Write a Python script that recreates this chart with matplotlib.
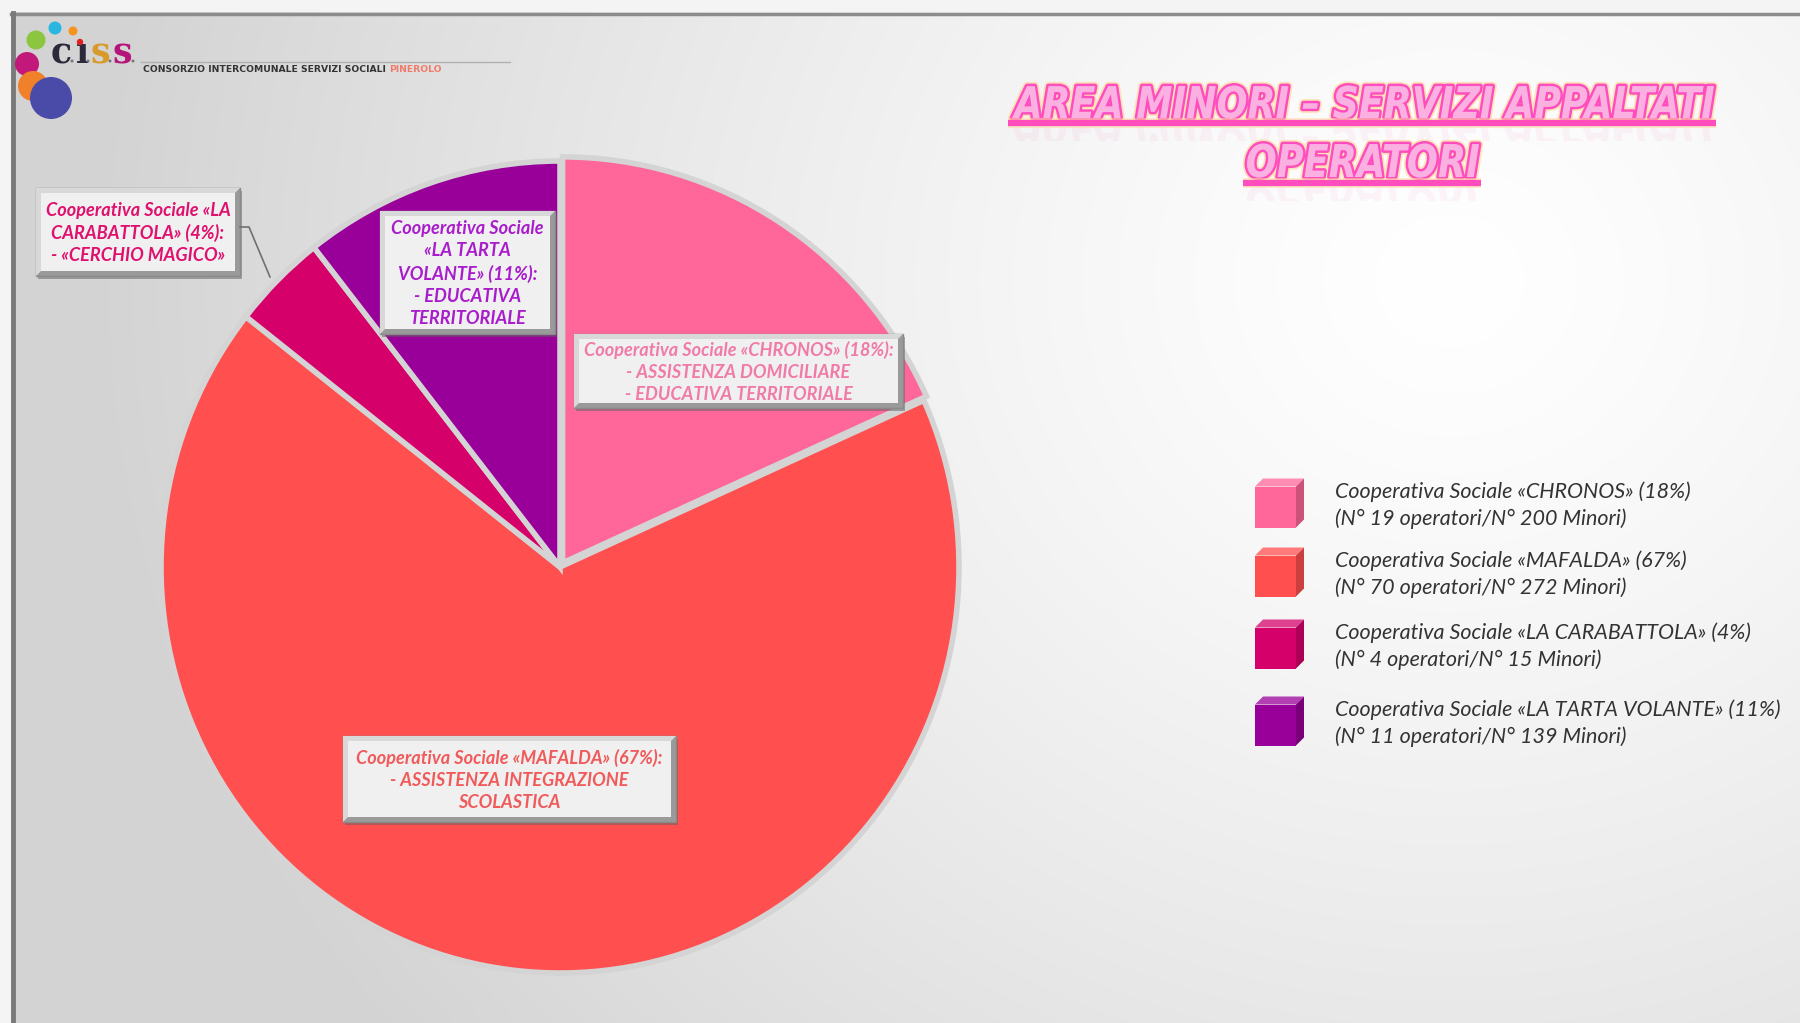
import numpy as np
import matplotlib
matplotlib.use("Agg")
import matplotlib.pyplot as plt
from matplotlib.patches import Rectangle, Polygon, Circle, PathPatch
from matplotlib.textpath import TextPath
from matplotlib.font_manager import FontProperties
from matplotlib.transforms import Affine2D
import matplotlib.patheffects as pe

# data
names = ["CHRONOS", "MAFALDA", "LA CARABATTOLA", "LA TARTA VOLANTE"]
operatori = [19, 70, 4, 11]
minori = [200, 272, 15, 139]
colors = ["#ff6699", "#ff4f4f", "#d6006b", "#990099"]
label_colors = ["#f07aa8", "#f05a5a", "#e0106e", "#a81ccc"]
services = [
    ["- ASSISTENZA DOMICILIARE", "- EDUCATIVA TERRITORIALE"],
    ["- ASSISTENZA INTEGRAZIONE", "SCOLASTICA"],
    ["- «CERCHIO MAGICO»"],
    ["- EDUCATIVA", "TERRITORIALE"],
]
title_lines = ["AREA MINORI – SERVIZI APPALTATI", "OPERATORI"]

pct = [round(v / sum(operatori) * 100) for v in operatori]

W, H = 1800, 1023
fig = plt.figure(figsize=(W / 100, H / 100), dpi=100)

# ---- background
bg = fig.add_axes([0, 0, 1, 1])
bg.set_xlim(0, W)
bg.set_ylim(H, 0)
bg.axis("off")
yy, xx = np.mgrid[0:H, 0:W]
d = np.hypot((xx - 1450) / 1.0, (yy - 280) / 0.9)
v = 1 - 0.17 * np.clip(d / 1350, 0, 1) ** 1.3
img = np.dstack([v, v, v])
bg.imshow(img, extent=(0, W, H, 0), aspect="auto", zorder=0)
bg.add_patch(Rectangle((0, 0), W, 12, fc="#f4f4f4", ec="none", zorder=1))
bg.add_patch(Rectangle((0, 0), 11, H, fc="#f4f4f4", ec="none", zorder=1))
bg.plot([11, W], [14, 14], color="#8c8c8c", lw=2.5, zorder=2)
bg.plot([13, 13], [13, H], color="#7a7a7a", lw=3.5, zorder=2)

# logo
for (cx, cy, r, c) in [(36, 40, 9.5, "#8cc63f"), (55, 28, 6.5, "#29b6e0"),
                       (73, 31, 4.5, "#f7941d"), (27, 64, 12, "#c2187a"),
                       (33, 86, 15, "#f0812a"), (51, 98, 21, "#4a4aa8")]:
    bg.add_patch(Circle((cx, cy), r, fc=c, ec="none", zorder=3))
for ch, x, c in [("c", 51, "#2a2a3a"), ("ı", 76, "#2a2a3a"),
                 ("s", 90, "#d89a2a"), ("s", 112, "#b5157a")]:
    bg.text(x, 63, ch, fontsize=25, fontweight="bold", family="DejaVu Serif",
            color=c, va="baseline", ha="left", zorder=4)
for x in [72, 88, 110, 133]:
    bg.add_patch(Circle((x, 61), 1.5, fc="#777777", ec="none", zorder=4))
bg.add_patch(Circle((80, 42), 3.2, fc="#e02020", ec="none", zorder=5))
bg.plot([141, 510], [62, 62], color="#b0b0b0", lw=1, zorder=3)
t1 = bg.text(143, 70, "CONSORZIO INTERCOMUNALE SERVIZI SOCIALI ", fontsize=6.7,
             fontweight="bold", color="#333333", va="center", ha="left", zorder=4)
fig.canvas.draw()
ext = t1.get_window_extent().transformed(bg.transData.inverted())
bg.text(ext.x1, 70, "PINEROLO", fontsize=6.7, fontweight="bold",
        color="#f07a6a", va="center", ha="left", zorder=4)

# ---- title, drawn as outlined glyph paths squeezed into the reference width
tfont = FontProperties(family="DejaVu Sans", style="italic", weight="bold")
title_fx = [pe.Stroke(linewidth=6, foreground="#ffd9a0", alpha=0.7,
                      joinstyle="round"),
            pe.Stroke(linewidth=3.5, foreground="#ff4dbd", joinstyle="round"),
            pe.Normal()]
ul_fx = [pe.Stroke(linewidth=7, foreground="#ffd9a0", alpha=0.6), pe.Normal()]
for line, x0, x1, base, cap, uy in [(title_lines[0], 1012, 1714, 118, 32, 123),
                                     (title_lines[1], 1247, 1479, 177, 33, 183)]:
    tp = TextPath((0, 0), line, size=100, prop=tfont)
    bb = tp.get_extents()
    sx = (x1 - x0) / bb.width
    sy = cap / 73.0
    tr = Affine2D().translate(-bb.x0, 0).scale(sx, -sy).translate(x0, base)
    bg.add_patch(PathPatch(tr.transform_path(tp), fc="#fbb0e2", ec="none",
                           zorder=5, path_effects=title_fx))
    # faded reflection under the underline
    tr2 = Affine2D().translate(-bb.x0, 0).scale(sx, sy).translate(x0, uy + 4)
    pp = PathPatch(tr2.transform_path(tp), fc="#f070c0", ec="none", alpha=0.07,
                   zorder=4)
    bg.add_patch(pp)
    pp.set_clip_path(Rectangle((900, uy + 3), 900, 15, transform=bg.transData))
    bg.plot([x0 - 4, x1 + 2], [uy, uy], color="#ff4dbd", lw=4.5,
            solid_capstyle="butt", zorder=5, path_effects=ul_fx)

# ---- pie (slightly taller than wide, as in the reference)
Rx, Ry = 399, 406
cx0, cy0 = 560, 567
ax = fig.add_axes([(cx0 - Rx) / W, (H - cy0 - Ry) / H, 2 * Rx / W, 2 * Ry / H])
ax.pie(operatori, colors=colors, startangle=90, counterclock=False,
       explode=[0.012, 0, 0, 0],
       wedgeprops=dict(edgecolor="#d4d4d4", linewidth=4))
ax.set_aspect("auto")
ax.set_xlim(-1, 1)
ax.set_ylim(-1, 1)
ax.set_facecolor("none")

# ---- overlay for labels and legend
top = fig.add_axes([0, 0, 1, 1])
top.set_xlim(0, W)
top.set_ylim(H, 0)
top.axis("off")
top.patch.set_alpha(0)

boxes = [(574, 334, 329, 74), (343, 736, 333, 86), (36, 188, 204, 88),
         (380, 211, 175, 123)]
label_text = [
    [f"Cooperativa Sociale «CHRONOS» ({pct[0]}%):"] + services[0],
    [f"Cooperativa Sociale «MAFALDA» ({pct[1]}%):"] + services[1],
    ["Cooperativa Sociale «LA", f"CARABATTOLA» ({pct[2]}%):"] + services[2],
    ["Cooperativa Sociale", "«LA TARTA", f"VOLANTE» ({pct[3]}%):"] + services[3],
]
for (x, y, w, h), lines, c in zip(boxes, label_text, label_colors):
    top.add_patch(Rectangle((x + 2, y + 3), w, h, fc="#606060", ec="none",
                            alpha=0.5, zorder=3))
    top.add_patch(Rectangle((x, y), w, h, fc="#9a9a9a", ec="#8a8a8a", lw=1,
                            zorder=4))
    top.add_patch(Polygon([(x, y), (x + w, y), (x + w - 5, y + 5), (x + 5, y + 5),
                           (x + 5, y + h - 5), (x, y + h)],
                          fc="#d8d8d8", ec="none", zorder=5))
    top.add_patch(Rectangle((x + 5, y + 5), w - 10, h - 10, fc="#f0f0f0",
                            ec="none", zorder=5))
    top.text(x + w / 2, y + h / 2 + 1, "\n".join(lines), ha="center", va="center",
             multialignment="center", fontsize=13.1,
             family=["Lato", "DejaVu Sans"], style="italic", fontweight="bold",
             color=c, linespacing=1.36, zorder=6)

# leader line for the small slice
top.plot([240, 249, 270], [227, 227, 277], color="#707070", lw=1.2, zorder=6)

# ---- legend
leg_rows = [503, 572, 644, 721]
for yc, nm, op, mi, p, c in zip(leg_rows, names, operatori, minori, pct, colors):
    x0, s, dpt = 1255, 41, 8
    y0 = yc - s / 2 + dpt / 2
    rgb = np.array(matplotlib.colors.to_rgb(c))
    light = 1 - (1 - rgb) * 0.75
    dark = rgb * 0.8
    top.add_patch(Rectangle((x0, y0), s, s, fc=c, ec="none", zorder=4))
    top.add_patch(Polygon([(x0, y0), (x0 + dpt, y0 - dpt), (x0 + s + dpt, y0 - dpt),
                           (x0 + s, y0)], fc=light, ec="none", zorder=4))
    top.add_patch(Polygon([(x0 + s, y0), (x0 + s + dpt, y0 - dpt),
                           (x0 + s + dpt, y0 + s - dpt), (x0 + s, y0 + s)],
                          fc=dark, ec="none", zorder=4))
    top.text(1335, yc - 11, f"Cooperativa Sociale «{nm}» ({p}%)", ha="left",
             va="center", fontsize=15.5, family=["Lato", "DejaVu Sans"],
             style="italic", color="#333333", zorder=5)
    top.text(1335, yc + 16, f"(N° {op} operatori/N° {mi} Minori)", ha="left",
             va="center", fontsize=15.5, family=["Lato", "DejaVu Sans"],
             style="italic", color="#333333", zorder=5)

fig.savefig("out.png", dpi=100)
